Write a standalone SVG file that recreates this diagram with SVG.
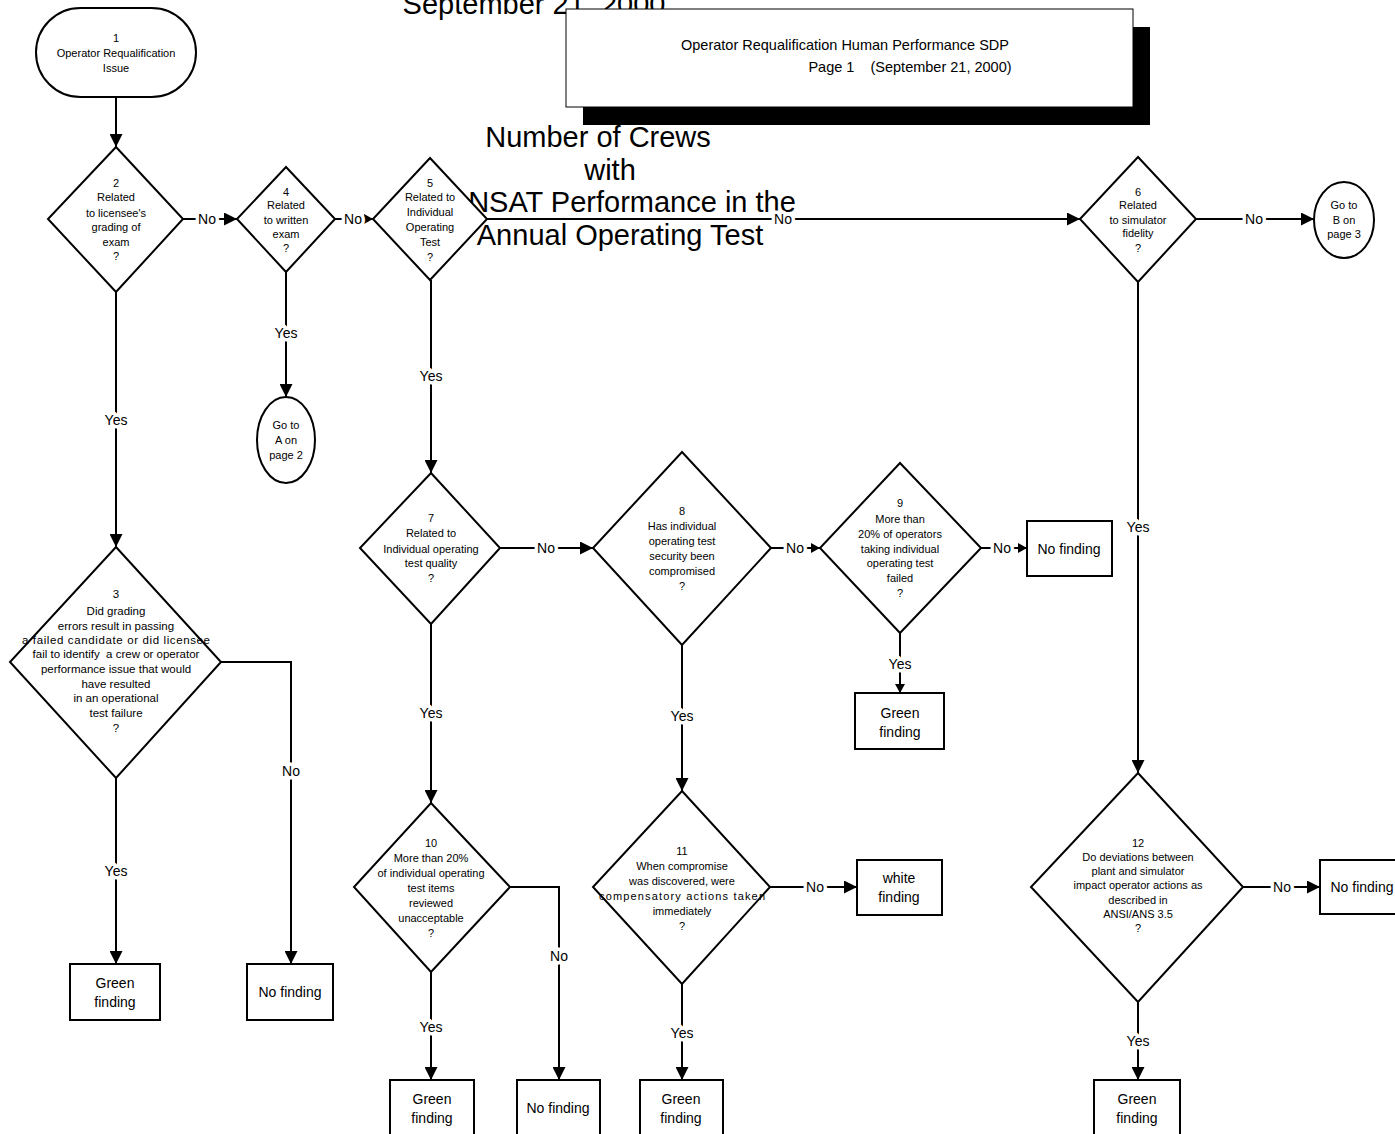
<svg xmlns="http://www.w3.org/2000/svg" width="1395" height="1134" viewBox="0 0 1395 1134">
<style>
.n{fill:#fff;stroke:#000;stroke-width:2}
.c{fill:none;stroke:#000;stroke-width:2}
text{font-family:"Liberation Sans",Arial,sans-serif;fill:#000;text-anchor:middle}
.t{font-size:11px}
.t3{font-size:11.5px}
.b{font-size:14px}
.big{font-size:29px}
.h{font-size:14.5px}
.l{font-size:14px;paint-order:stroke;stroke:#fff;stroke-width:7px;stroke-linejoin:round}
</style>
<defs>
<marker id="a" markerWidth="13" markerHeight="13" refX="13" refY="6.5" orient="auto" markerUnits="userSpaceOnUse"><path d="M0,0 L13,6.5 L0,13 z" fill="#000"/></marker>
<marker id="s" markerWidth="9" markerHeight="10" refX="9" refY="5" orient="auto" markerUnits="userSpaceOnUse"><path d="M0,0 L9,5 L0,10 z" fill="#000"/></marker>
</defs>
<rect width="1395" height="1134" fill="#fff"/>
<g id="title-text">
<text class="big" x="534" y="14">September 21, 2000</text>
<text class="big" x="598" y="147">Number of Crews</text>
<text class="big" x="610" y="180">with</text>
<text class="big" x="632" y="212">NSAT Performance in the</text>
<text class="big" x="620" y="245">Annual Operating Test</text>
</g>
<g id="header">
<rect x="583" y="27" width="567" height="98" fill="#000"/>
<rect x="566" y="9" width="567" height="98" fill="#fff" stroke="#000" stroke-width="1"/>
<text class="h" x="845" y="50">Operator Requalification Human Performance SDP</text>
<text class="h" x="910" y="72" xml:space="preserve">Page 1    (September 21, 2000)</text>
</g>
<g id="connectors">
<path class="c" d="M116,97 V147" marker-end="url(#a)"/>
<path class="c" d="M183,219 H237" marker-end="url(#a)"/>
<text class="l" x="207" y="224">No</text>
<path class="c" d="M335,219 H373" marker-end="url(#s)"/>
<text class="l" x="353" y="224">No</text>
<path class="c" d="M487,219 H1080" marker-end="url(#a)"/>
<text class="l" x="783" y="224">No</text>
<path class="c" d="M1196,219 H1314" marker-end="url(#a)"/>
<text class="l" x="1254" y="224">No</text>
<path class="c" d="M116,292 V547" marker-end="url(#a)"/>
<text class="l" x="116" y="425">Yes</text>
<path class="c" d="M116,778 V964" marker-end="url(#a)"/>
<text class="l" x="116" y="876">Yes</text>
<path class="c" d="M221,662 H291 V964" marker-end="url(#a)"/>
<text class="l" x="291" y="776">No</text>
<path class="c" d="M286,272 V397" marker-end="url(#a)"/>
<text class="l" x="286" y="338">Yes</text>
<path class="c" d="M431,280 V473" marker-end="url(#a)"/>
<text class="l" x="431" y="381">Yes</text>
<path class="c" d="M500,548 H593" marker-end="url(#a)"/>
<text class="l" x="546" y="553">No</text>
<path class="c" d="M771,548 H820" marker-end="url(#s)"/>
<text class="l" x="795" y="553">No</text>
<path class="c" d="M981,548 H1027" marker-end="url(#s)"/>
<text class="l" x="1002" y="553">No</text>
<path class="c" d="M900,633 V693" marker-end="url(#s)"/>
<text class="l" x="900" y="669">Yes</text>
<path class="c" d="M431,624 V803" marker-end="url(#a)"/>
<text class="l" x="431" y="718">Yes</text>
<path class="c" d="M510,887 H559 V1080" marker-end="url(#a)"/>
<text class="l" x="559" y="961">No</text>
<path class="c" d="M431,972 V1080" marker-end="url(#a)"/>
<text class="l" x="431" y="1032">Yes</text>
<path class="c" d="M682,645 V791" marker-end="url(#a)"/>
<text class="l" x="682" y="721">Yes</text>
<path class="c" d="M770,887 H857" marker-end="url(#a)"/>
<text class="l" x="815" y="892">No</text>
<path class="c" d="M682,984 V1080" marker-end="url(#a)"/>
<text class="l" x="682" y="1038">Yes</text>
<path class="c" d="M1138,282 V773" marker-end="url(#a)"/>
<text class="l" x="1138" y="532">Yes</text>
<path class="c" d="M1243,887 H1320" marker-end="url(#a)"/>
<text class="l" x="1282" y="892">No</text>
<path class="c" d="M1138,1002 V1080" marker-end="url(#a)"/>
<text class="l" x="1138" y="1046">Yes</text>
</g>
<g id="n1">
<rect class="n" x="36" y="8" width="160" height="89" rx="44.5"/>
<text class="t" x="116" y="42">1</text>
<text class="t" x="116" y="57">Operator Requalification</text>
<text class="t" x="116" y="72">Issue</text>
</g>
<g id="n2">
<polygon class="n" points="116,147 183,219 116,292 48,219"/>
<text class="t" x="116" y="187">2</text>
<text class="t" x="116" y="201">Related</text>
<text class="t" x="116" y="217">to licensee's</text>
<text class="t" x="116" y="231">grading of</text>
<text class="t" x="116" y="246">exam</text>
<text class="t" x="116" y="260">?</text>
</g>
<g id="n4">
<polygon class="n" points="286,167 335,219 286,272 237,219"/>
<text class="t" x="286" y="196">4</text>
<text class="t" x="286" y="209">Related</text>
<text class="t" x="286" y="224">to written</text>
<text class="t" x="286" y="238">exam</text>
<text class="t" x="286" y="252">?</text>
</g>
<g id="n5">
<polygon class="n" points="430,158 487,219 430,280 373,219"/>
<text class="t" x="430" y="187">5</text>
<text class="t" x="430" y="201">Related to</text>
<text class="t" x="430" y="216">Individual</text>
<text class="t" x="430" y="231">Operating</text>
<text class="t" x="430" y="246">Test</text>
<text class="t" x="430" y="261">?</text>
</g>
<g id="n6">
<polygon class="n" points="1138,157 1196,219 1138,282 1080,219"/>
<text class="t" x="1138" y="196">6</text>
<text class="t" x="1138" y="209">Related</text>
<text class="t" x="1138" y="224">to simulator</text>
<text class="t" x="1138" y="237">fidelity</text>
<text class="t" x="1138" y="252">?</text>
</g>
<g id="nB">
<ellipse class="n" cx="1344" cy="220" rx="30" ry="38"/>
<text class="t" x="1344" y="209">Go to</text>
<text class="t" x="1344" y="224">B on</text>
<text class="t" x="1344" y="238">page 3</text>
</g>
<g id="nA">
<ellipse class="n" cx="286" cy="440" rx="29" ry="43"/>
<text class="t" x="286" y="429">Go to</text>
<text class="t" x="286" y="444">A on</text>
<text class="t" x="286" y="459">page 2</text>
</g>
<g id="n3">
<polygon class="n" points="116,547 221,662 116,778 10,662"/>
<text class="t3" x="116" y="598">3</text>
<text class="t3" x="116" y="615">Did grading</text>
<text class="t3" x="116" y="630">errors result in passing</text>
<text class="t3" x="116" y="644" textLength="188" lengthAdjust="spacing">a failed candidate or did licensee</text>
<text class="t3" x="116" y="658" xml:space="preserve">fail to identify  a crew or operator</text>
<text class="t3" x="116" y="673">performance issue that would</text>
<text class="t3" x="116" y="688">have resulted</text>
<text class="t3" x="116" y="702">in an operational</text>
<text class="t3" x="116" y="717">test failure</text>
<text class="t3" x="116" y="732">?</text>
</g>
<g id="n7">
<polygon class="n" points="431,473 500,548 431,624 360,548"/>
<text class="t" x="431" y="522">7</text>
<text class="t" x="431" y="537">Related to</text>
<text class="t" x="431" y="553">Individual operating</text>
<text class="t" x="431" y="567">test quality</text>
<text class="t" x="431" y="582">?</text>
</g>
<g id="n8">
<polygon class="n" points="682,452 771,548 682,645 593,548"/>
<text class="t" x="682" y="515">8</text>
<text class="t" x="682" y="530">Has individual</text>
<text class="t" x="682" y="545">operating test</text>
<text class="t" x="682" y="560">security been</text>
<text class="t" x="682" y="575">compromised</text>
<text class="t" x="682" y="590">?</text>
</g>
<g id="n9">
<polygon class="n" points="900,463 981,548 900,633 820,548"/>
<text class="t" x="900" y="507">9</text>
<text class="t" x="900" y="523">More than</text>
<text class="t" x="900" y="538">20% of operators</text>
<text class="t" x="900" y="553">taking individual</text>
<text class="t" x="900" y="567">operating test</text>
<text class="t" x="900" y="582">failed</text>
<text class="t" x="900" y="597">?</text>
</g>
<g id="nf9">
<rect class="n" x="1027" y="521" width="85" height="55"/>
<text class="b" x="1069" y="554">No finding</text>
</g>
<g id="g9">
<rect class="n" x="855" y="693" width="89" height="56"/>
<text class="b" x="900" y="718">Green</text>
<text class="b" x="900" y="737">finding</text>
</g>
<g id="n10">
<polygon class="n" points="431,803 510,887 431,972 354,887"/>
<text class="t" x="431" y="847">10</text>
<text class="t" x="431" y="862">More than 20%</text>
<text class="t" x="431" y="877">of individual operating</text>
<text class="t" x="431" y="892">test items</text>
<text class="t" x="431" y="907">reviewed</text>
<text class="t" x="431" y="922">unacceptable</text>
<text class="t" x="431" y="937">?</text>
</g>
<g id="n11">
<polygon class="n" points="682,791 770,887 682,984 593,887"/>
<text class="t" x="682" y="855">11</text>
<text class="t" x="682" y="870">When compromise</text>
<text class="t" x="682" y="885">was discovered, were</text>
<text class="t" x="682" y="900" textLength="166" lengthAdjust="spacing">compensatory actions taken</text>
<text class="t" x="682" y="915">immediately</text>
<text class="t" x="682" y="930">?</text>
</g>
<g id="white">
<rect class="n" x="857" y="860" width="85" height="55"/>
<text class="b" x="899" y="883">white</text>
<text class="b" x="899" y="902">finding</text>
</g>
<g id="n12">
<polygon class="n" points="1138,773 1243,887 1138,1002 1031,887"/>
<text class="t" x="1138" y="847">12</text>
<text class="t" x="1138" y="861">Do deviations between</text>
<text class="t" x="1138" y="875">plant and simulator</text>
<text class="t" x="1138" y="889">impact operator actions as</text>
<text class="t" x="1138" y="904">described in</text>
<text class="t" x="1138" y="918">ANSI/ANS 3.5</text>
<text class="t" x="1138" y="932">?</text>
</g>
<g id="nf12">
<rect class="n" x="1320" y="860" width="85" height="54"/>
<text class="b" x="1362" y="892">No finding</text>
</g>
<g id="g1">
<rect class="n" x="70" y="964" width="90" height="56"/>
<text class="b" x="115" y="988">Green</text>
<text class="b" x="115" y="1007">finding</text>
</g>
<g id="nf1">
<rect class="n" x="247" y="964" width="86" height="56"/>
<text class="b" x="290" y="997">No finding</text>
</g>
<g id="g10">
<rect class="n" x="390" y="1080" width="84" height="58"/>
<text class="b" x="432" y="1104">Green</text>
<text class="b" x="432" y="1123">finding</text>
</g>
<g id="nf10">
<rect class="n" x="517" y="1080" width="83" height="58"/>
<text class="b" x="558" y="1113">No finding</text>
</g>
<g id="g11">
<rect class="n" x="640" y="1080" width="83" height="58"/>
<text class="b" x="681" y="1104">Green</text>
<text class="b" x="681" y="1123">finding</text>
</g>
<g id="g12">
<rect class="n" x="1094" y="1080" width="86" height="58"/>
<text class="b" x="1137" y="1104">Green</text>
<text class="b" x="1137" y="1123">finding</text>
</g>
</svg>
